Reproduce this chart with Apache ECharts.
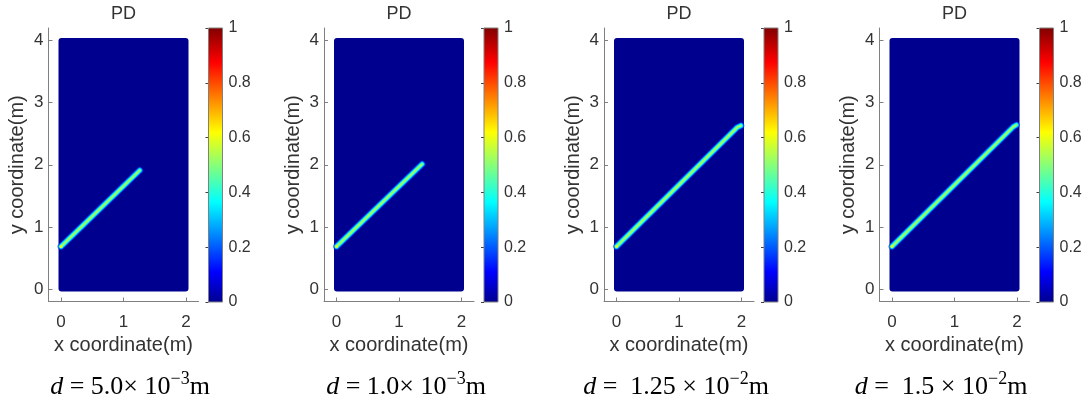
<!DOCTYPE html>
<html>
<head>
<meta charset="utf-8">
<script src="https://cdn.jsdelivr.net/npm/echarts@6/dist/echarts.min.js"></script>
<style>
  html, body { margin: 0; padding: 0; background: #ffffff; }
  #chart { width: 1089px; height: 405px; }
</style>
</head>
<body>
<div id="chart"></div>
<script>
// Phase-field damage (PD) maps of a 2 m x 4 m plate for four length-scale values d
const X_TICKS = [0, 1, 2];
const Y_TICKS = [0, 1, 2, 3, 4];
const CBAR_TICKS = [0, 0.2, 0.4, 0.6, 0.8, 1];
const DOMAIN_X = [0, 2];
const DOMAIN_Y = [0, 4];

// caption parts: mantissa text and power-of-ten exponent
const CAPTION_VALUES = ['5.0\u00d7 10', '1.0\u00d7 10', ' 1.25 \u00d7 10', ' 1.5 \u00d7 10'];
const CAPTION_EXPONENTS = ['\u22123', '\u22123', '\u22122', '\u22122'];

// crack paths (x, y in metres)
const CRACK_1 = [[0.0, 0.685], [1.26, 1.91]];
const CRACK_2 = [[0.0, 0.685], [1.37, 2.01]];
const CRACK_3 = [[0.0, 0.685], [1.93, 2.60], [1.99, 2.63]];
const CRACK_4 = [[0.0, 0.685], [1.94, 2.61], [1.99, 2.64]];
const CRACKS = [CRACK_1, CRACK_2, CRACK_3, CRACK_4];

// damage levels across the crack band, from outer halo to core
const BAND_LEVELS = [0.16, 0.26, 0.36, 0.46, 0.54];
const TIP_LEVEL = 0.62;

// layout
const GRID_LEFT = [48.5, 324, 604, 879.5];
const CAPTION_CX = [130, 406, 676, 941];
const PLOT_TOP = 28;
const PLOT_W = 150;
const PLOT_H = 273.5;

// MATLAB-style jet colour map
const JET_STOPS = [
  [0.0, [0, 0, 143]],
  [0.111, [0, 0, 255]],
  [0.365, [0, 255, 255]],
  [0.619, [255, 255, 0]],
  [0.873, [255, 0, 0]],
  [1.0, [128, 0, 0]]
];
function jet(v) {
  for (let k = 1; k < JET_STOPS.length; k++) {
    const [v0, c0] = JET_STOPS[k - 1];
    const [v1, c1] = JET_STOPS[k];
    if (v <= v1) {
      const t = (v - v0) / (v1 - v0);
      const c = c0.map((a, j) => Math.round(a + (c1[j] - a) * t));
      return `rgb(${c[0]},${c[1]},${c[2]})`;
    }
  }
  const c = JET_STOPS[JET_STOPS.length - 1][1];
  return `rgb(${c[0]},${c[1]},${c[2]})`;
}

const SANS = 'Liberation Sans, Arial, sans-serif';
const SERIF = 'Liberation Serif, Times New Roman, serif';
const TEXT = '#333333';
const AXIS = '#808080';
const BAND_WIDTHS = [7, 5.4, 4, 2.6, 1.3];
const BAND_OPACITY = [0.55, 0.9, 1, 1, 1];

const grids = [], xAxes = [], yAxes = [], series = [], titles = [];

for (let i = 0; i < 4; i++) {
  const L = GRID_LEFT[i];
  const pg = 2 * i, cg = 2 * i + 1;

  // main plot
  grids.push({ left: L, top: PLOT_TOP, width: PLOT_W, height: PLOT_H });
  xAxes.push({
    gridIndex: pg, type: 'value', min: -0.2, max: 2.2,
    axisLine: { show: true, onZero: false, lineStyle: { color: AXIS, width: 1 } },
    axisTick: { show: true, inside: true, length: 4, customValues: X_TICKS, lineStyle: { color: AXIS } },
    axisLabel: { customValues: X_TICKS, fontSize: 17, color: TEXT, margin: 12, fontFamily: SANS },
    splitLine: { show: false },
    name: 'x coordinate(m)', nameLocation: 'middle', nameGap: 33,
    nameTextStyle: { fontSize: 20, color: TEXT, fontFamily: SANS }
  });
  yAxes.push({
    gridIndex: pg, type: 'value', min: -0.2, max: 4.2,
    axisLine: { show: true, onZero: false, lineStyle: { color: AXIS, width: 1 } },
    axisTick: { show: true, inside: true, length: 4, customValues: Y_TICKS, lineStyle: { color: AXIS } },
    axisLabel: { customValues: Y_TICKS, fontSize: 17, color: TEXT, margin: 5, fontFamily: SANS },
    splitLine: { show: false },
    name: 'y coordinate(m)', nameLocation: 'middle', nameGap: 21,
    nameTextStyle: { fontSize: 20, color: TEXT, fontFamily: SANS }
  });

  // plate domain at zero damage
  series.push({
    type: 'custom', xAxisIndex: pg, yAxisIndex: pg, silent: true, z: 1,
    data: [[DOMAIN_X[0], DOMAIN_Y[0], DOMAIN_X[1], DOMAIN_Y[1]]],
    renderItem: (params, api) => {
      const p0 = api.coord([api.value(0), api.value(3)]);
      const p1 = api.coord([api.value(2), api.value(1)]);
      const pad = 2.5;
      return {
        type: 'rect',
        shape: { x: p0[0] - pad, y: p0[1] - pad, width: p1[0] - p0[0] + 2 * pad, height: p1[1] - p0[1] + 2 * pad, r: 3 },
        style: { fill: jet(0) }
      };
    }
  });

  // crack band, drawn as nested strokes of rising damage
  BAND_LEVELS.forEach((lv, k) => {
    series.push({
      type: 'line', xAxisIndex: pg, yAxisIndex: pg, silent: true, z: 2 + k,
      data: CRACKS[i], showSymbol: false, symbol: 'none',
      lineStyle: { width: BAND_WIDTHS[k], color: jet(lv), cap: 'round', join: 'round', opacity: BAND_OPACITY[k] }
    });
  });
  series.push({
    type: 'scatter', xAxisIndex: pg, yAxisIndex: pg, silent: true, z: 9,
    data: [CRACKS[i][0]], symbolSize: 3, itemStyle: { color: jet(TIP_LEVEL) }
  });

  // colour bar
  grids.push({ left: L + 160, top: PLOT_TOP, width: 14, height: 274 });
  xAxes.push({ gridIndex: cg, type: 'value', min: 0, max: 1, show: false });
  yAxes.push({
    gridIndex: cg, type: 'value', min: CBAR_TICKS[0], max: CBAR_TICKS[CBAR_TICKS.length - 1], interval: 0.2,
    position: 'right',
    axisLine: { show: false },
    axisTick: { show: true, inside: true, length: 3, lineStyle: { color: '#404040' } },
    axisLabel: { fontSize: 16, color: TEXT, margin: 6, fontFamily: SANS },
    splitLine: { show: false }
  });
  series.push({
    type: 'custom', xAxisIndex: cg, yAxisIndex: cg, silent: true, z: 1,
    data: [[0, CBAR_TICKS[0], 1, CBAR_TICKS[CBAR_TICKS.length - 1]]],
    renderItem: (params, api) => {
      const p0 = api.coord([api.value(0), api.value(3)]);
      const p1 = api.coord([api.value(2), api.value(1)]);
      return {
        type: 'rect',
        shape: { x: p0[0], y: p0[1], width: p1[0] - p0[0], height: p1[1] - p0[1] },
        style: {
          fill: {
            type: 'linear', x: 0, y: 1, x2: 0, y2: 0,
            colorStops: JET_STOPS.map(s => ({ offset: s[0], color: jet(s[0]) }))
          },
          stroke: AXIS, lineWidth: 1
        }
      };
    }
  });

  // panel title
  titles.push({
    text: 'PD', left: L + PLOT_W / 2, top: 5, textAlign: 'center', padding: 0,
    textStyle: { fontSize: 18, fontWeight: 'normal', color: TEXT, fontFamily: SANS }
  });

  // caption with the length-scale value
  titles.push({
    text: `{it|d}{n| = ${CAPTION_VALUES[i]}}{sup|${CAPTION_EXPONENTS[i]}}{n|m}`,
    left: CAPTION_CX[i], top: 370, textAlign: 'center', padding: 0,
    textStyle: {
      fontWeight: 'normal',
      rich: {
        it: { fontFamily: SERIF, fontStyle: 'italic', fontWeight: 'normal', fontSize: 26, lineHeight: 34, color: '#000' },
        n: { fontFamily: SERIF, fontWeight: 'normal', fontSize: 26, lineHeight: 34, color: '#000' },
        sup: { fontFamily: SERIF, fontWeight: 'normal', fontSize: 18, lineHeight: 18, verticalAlign: 'top', color: '#000' }
      }
    }
  });
}

const chart = echarts.init(document.getElementById('chart'), null, { renderer: 'canvas' });
chart.setOption({
  animation: false,
  backgroundColor: '#ffffff',
  title: titles,
  grid: grids,
  xAxis: xAxes,
  yAxis: yAxes,
  series: series
});
</script>
</body>
</html>
